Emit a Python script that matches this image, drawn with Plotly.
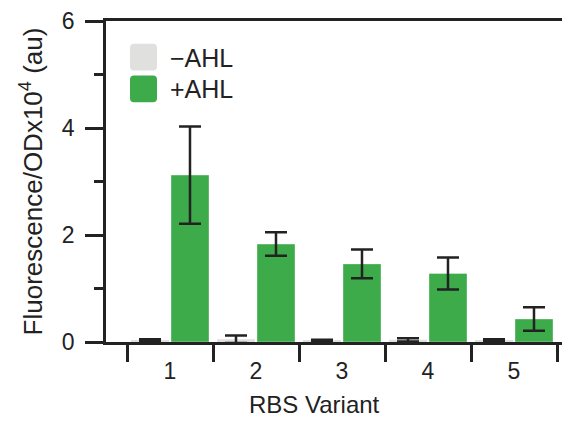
import plotly.graph_objects as go

# ---- data ----
variants = [1, 2, 3, 4, 5]
variant_labels = ["1", "2", "3", "4", "5"]
minus_ahl = [0.03, 0.05, 0.02, 0.04, 0.03]
minus_ahl_err = [0.02, 0.07, 0.02, 0.03, 0.02]
plus_ahl = [3.12, 1.83, 1.46, 1.28, 0.43]
plus_ahl_err = [0.91, 0.22, 0.27, 0.30, 0.22]
y_ticks = [0, 2, 4, 6]
y_minor = [1, 3, 5]
x_separators = [0.5, 1.5, 2.5, 3.5, 4.5, 5.5]

GREEN = "#3dab4a"
GRAY = "#e0e0df"
INK = "#222222"
FONT = "Liberation Sans, Arial, Helvetica, sans-serif"

# page is offset by the default 8px body margin
OFF = 8
PAGE_W, PAGE_H = 570, 421
W, H = PAGE_W - OFF, PAGE_H - OFF
# plot area in page pixels: x 106..570, y 18..342
PL, PR, PT, PB = 106, 570, 18, 342
L, T = PL - OFF, PT - OFF
R, B = W - (PR - OFF), H - (PB - OFF)
PW, PH = PR - PL, PB - PT


def px_x(p):
    return (p - PL) / PW


def px_y(p):
    return (PB - p) / PH


err_style = dict(type="data", color=INK, thickness=2.5, width=11, visible=True)

fig = go.Figure()
fig.add_bar(x=variants, y=minus_ahl, name="\u2212AHL", marker=dict(color=GRAY, line=dict(width=0)),
            error_y=dict(array=minus_ahl_err, **err_style), showlegend=False)
fig.add_bar(x=variants, y=plus_ahl, name="+AHL",
            marker=dict(color=GREEN, line=dict(color="rgba(255,255,255,0.35)", width=1)),
            error_y=dict(array=plus_ahl_err, **err_style), showlegend=False)


def rounded_rect(x0, y0, x1, y1, r=4):
    X = lambda v: f"{px_x(v):.5f}"
    Y = lambda v: f"{px_y(v):.5f}"
    return (f"M{X(x0 + r)},{Y(y0)} L{X(x1 - r)},{Y(y0)} Q{X(x1)},{Y(y0)} {X(x1)},{Y(y0 + r)} "
            f"L{X(x1)},{Y(y1 - r)} Q{X(x1)},{Y(y1)} {X(x1 - r)},{Y(y1)} "
            f"L{X(x0 + r)},{Y(y1)} Q{X(x0)},{Y(y1)} {X(x0)},{Y(y1 - r)} "
            f"L{X(x0)},{Y(y0 + r)} Q{X(x0)},{Y(y0)} {X(x0 + r)},{Y(y0)} Z")


shapes = [
    dict(type="path", xref="paper", yref="paper", path=rounded_rect(130, 41, 157, 68),
         fillcolor=GRAY, line=dict(width=0)),
    dict(type="path", xref="paper", yref="paper", path=rounded_rect(130, 73, 157, 100),
         fillcolor=GREEN, line=dict(width=0)),
]

annotations = [
    dict(text="\u2212AHL", xref="paper", yref="paper", x=px_x(168), y=px_y(55),
         xanchor="left", yanchor="middle", showarrow=False, font=dict(size=25, color=INK, family=FONT)),
    dict(text="+AHL", xref="paper", yref="paper", x=px_x(168), y=px_y(87),
         xanchor="left", yanchor="middle", showarrow=False, font=dict(size=25, color=INK, family=FONT)),
    dict(text="RBS Variant", xref="paper", yref="paper", x=px_x(314), y=px_y(405),
         xanchor="center", yanchor="middle", showarrow=False, font=dict(size=24, color=INK, family=FONT)),
]

fig.update_layout(
    width=W, height=H, autosize=False,
    margin=dict(l=L, r=R, t=T, b=B, pad=0),
    paper_bgcolor="white", plot_bgcolor="white",
    barmode="group", bargap=0.07, bargroupgap=0.05,
    font=dict(family=FONT, color=INK, size=22),
    shapes=shapes, annotations=annotations,
    xaxis=dict(
        range=[1 + (PL - 170) / 86, 1 + (PR - 170) / 86],
        tickmode="array", tickvals=variants, ticktext=variant_labels,
        ticks="outside", ticklen=7, tickcolor="rgba(0,0,0,0)", tickwidth=2.5,
        tickfont=dict(size=23, color=INK, family=FONT),
        ticklabeloverflow="allow",
        showline=True, linecolor=INK, linewidth=2.5, mirror=True,
        showgrid=False, zeroline=False,
        minor=dict(tickmode="array", tickvals=x_separators, ticks="outside",
                   ticklen=17, tickwidth=2.5, tickcolor=INK, showgrid=False),
    ),
    yaxis=dict(
        range=[0, 6],
        tickmode="array", tickvals=y_ticks, ticktext=[str(v) for v in y_ticks],
        ticks="outside", ticklen=18, tickwidth=2.5, tickcolor=INK,
        ticklabelstandoff=6, ticklabeloverflow="allow",
        tickfont=dict(size=23, color=INK, family=FONT),
        showline=True, linecolor=INK, linewidth=2.5, mirror=False,
        showgrid=False, zeroline=False,
        minor=dict(tickmode="array", tickvals=y_minor, ticks="outside",
                   ticklen=9, tickwidth=2.5, tickcolor=INK, showgrid=False),
        title=dict(text="Fluorescence/ODx10<sup>4</sup> (au)",
                   font=dict(size=26, color=INK, family=FONT), standoff=12),
    ),
)

fig.write_html("out.html")
